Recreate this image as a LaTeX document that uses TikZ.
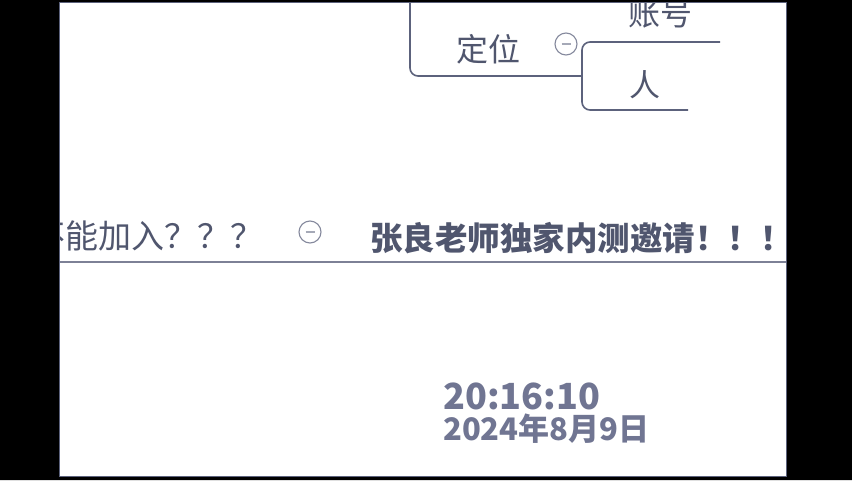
\documentclass[tikz,border=0pt]{standalone}
\usepackage{fontspec}
\usepackage{tikz}
\usetikzlibrary{positioning}
\newfontfamily\cjk{Noto Sans CJK SC}
\definecolor{mapline}{RGB}{92,98,124}
\definecolor{maptext}{RGB}{80,86,110}
\definecolor{stampcol}{RGB}{112,117,146}
\tikzset{
	topic/.style={inner sep=0pt, anchor=base west, text=maptext, font=\cjk\fontsize{31}{31}\selectfont},
	branch/.style={draw=mapline, line width=1.6pt, rounded corners=8pt},
	fold/.style={circle, draw=mapline!75, line width=1.1pt, minimum size=22pt, inner sep=0pt}
}
\newcommand{\foldbutton}[3]{
	\node[fold] (#1) at (#2,#3) {};
	\draw[mapline!55, line width=2pt] (#2-4.5,#3) -- (#2+4.5,#3);
}

\begin{document}
\begin{tikzpicture}[x=1pt, y=-1pt]
				\useasboundingbox (0,0) rectangle (852,480);
				\fill[white] (59,2) rectangle (786,476);
				% Upper branch
				\node[topic, font=\cjk\fontsize{32}{32}\selectfont] (dingwei) at (456,61) {定位};
				\node[topic, font=\cjk\fontsize{32}{32}\selectfont] (zhanghao) at (628,25) {账号};
				\node[topic] (ren) at (629,96) {人};
				\coordinate (trunk) at (410,0);
				\coordinate (fork) at (582,76);
				\coordinate (zhEnd) at (720,42);
				\coordinate (renEnd) at (688,110);
				\draw[branch] (trunk) -- (trunk |- fork) -- (fork);
				\draw[branch] (zhEnd) -- (fork |- zhEnd) -- (fork |- renEnd) -- (renEnd);
				\foldbutton{foldA}{566}{44}

				% Middle row
				\node[topic, font=\cjk\fontsize{33}{33}\selectfont] (join) at (32,248) {不能加入？？？};
				\foldbutton{foldB}{310}{232}
				\node[topic, font=\cjk\bfseries\fontsize{32.5}{32.5}\selectfont] (invite) at (370,250) {张良老师独家内测邀请！！！};
				\coordinate (lineL) at (59,262);
				\coordinate (lineR) at (786,262);
				\draw[mapline!80, line width=2pt] (lineL) -- (lineR);

				% Time stamp
				\node[inner sep=0pt, anchor=base west, text=stampcol, font=\cjk\bfseries\fontsize{36}{36}\selectfont] (clock) at (443,409) {20:16:10};
				\node[inner sep=0pt, anchor=base west, text=stampcol, font=\cjk\bfseries\fontsize{31}{31}\selectfont] (date) at (443,440) {2024年8月9日};

				% Black frame
				\fill[black, even odd rule] (0,0) rectangle (852,480) (59,2) rectangle (786,476);
				\draw[mapline, line width=0.8pt] (59,2) rectangle (786,476);
\end{tikzpicture}
\end{document}
